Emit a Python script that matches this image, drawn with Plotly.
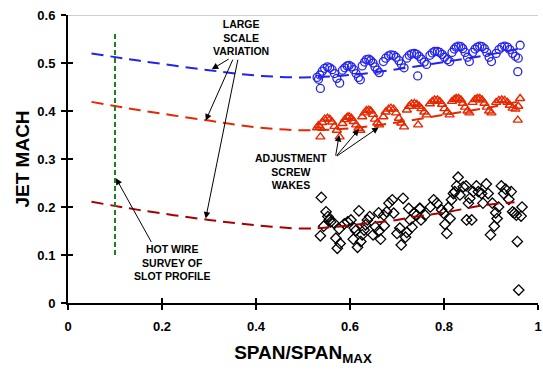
import plotly.graph_objects as go

# ---- fitted (dashed) curves ----
blue_fit_x = [0.05, 0.15, 0.3, 0.4, 0.5, 0.6, 0.7, 0.8, 0.9, 0.96]
blue_fit_y = [0.520, 0.505, 0.485, 0.474, 0.470, 0.475, 0.487, 0.502, 0.518, 0.530]
red_fit_x = [0.05, 0.15, 0.3, 0.4, 0.5, 0.6, 0.7, 0.8, 0.9, 0.96]
red_fit_y = [0.419, 0.402, 0.380, 0.366, 0.360, 0.364, 0.376, 0.392, 0.408, 0.420]
dred_fit_x = [0.05, 0.15, 0.3, 0.4, 0.5, 0.56, 0.63, 0.7, 0.74, 0.81, 0.88, 0.95]
dred_fit_y = [0.211, 0.194, 0.173, 0.162, 0.155, 0.158, 0.165, 0.173, 0.180, 0.190, 0.203, 0.210]
hotwire_x = [0.1, 0.1]
hotwire_y = [0.10, 0.563]

# ---- blue circles ----
blue_x = [0.530, 0.533, 0.537,
          0.536, 0.541, 0.546, 0.552, 0.557, 0.562, 0.567, 0.572, 0.578,
          0.584, 0.589, 0.594, 0.598, 0.603, 0.608, 0.613, 0.618, 0.622,
          0.626, 0.631, 0.635, 0.640, 0.644, 0.649, 0.653, 0.658, 0.662,
          0.671, 0.676, 0.682, 0.687, 0.693, 0.698, 0.704, 0.709, 0.715,
          0.721, 0.726, 0.731, 0.737, 0.742, 0.747, 0.752, 0.758, 0.763,
          0.770, 0.775, 0.780, 0.786, 0.791, 0.796, 0.801, 0.807, 0.812,
          0.817, 0.822, 0.826, 0.831, 0.836, 0.840, 0.845, 0.850, 0.854,
          0.861, 0.866, 0.871, 0.876, 0.881, 0.886, 0.891, 0.896, 0.901,
          0.911, 0.917, 0.923, 0.929, 0.935, 0.940, 0.946, 0.952, 0.958,
          0.744, 0.962, 0.957]
blue_y = [0.470, 0.466, 0.447,
          0.475, 0.483, 0.489, 0.492, 0.490, 0.486, 0.478, 0.468, 0.458,
          0.485, 0.490, 0.494, 0.495, 0.492, 0.486, 0.478, 0.470, 0.465,
          0.494, 0.502, 0.507, 0.508, 0.505, 0.500, 0.492, 0.485, 0.480,
          0.503, 0.510, 0.515, 0.517, 0.516, 0.512, 0.505, 0.498, 0.490,
          0.510, 0.516, 0.519, 0.520, 0.518, 0.514, 0.508, 0.502, 0.497,
          0.516, 0.521, 0.524, 0.524, 0.522, 0.518, 0.512, 0.507, 0.503,
          0.522, 0.529, 0.533, 0.535, 0.534, 0.530, 0.522, 0.512, 0.503,
          0.522, 0.529, 0.533, 0.535, 0.534, 0.530, 0.522, 0.512, 0.503,
          0.520, 0.528, 0.533, 0.535, 0.533, 0.528, 0.520, 0.514, 0.510,
          0.473, 0.537, 0.482]

# ---- red triangles ----
red_x = [0.530, 0.533, 0.537,
         0.536, 0.541, 0.546, 0.552, 0.557, 0.562, 0.567, 0.572, 0.578,
         0.584, 0.589, 0.594, 0.598, 0.603, 0.608, 0.613, 0.618, 0.622,
         0.626, 0.631, 0.635, 0.640, 0.644, 0.649, 0.653, 0.658, 0.662,
         0.671, 0.676, 0.682, 0.687, 0.693, 0.698, 0.704, 0.709, 0.715,
         0.721, 0.726, 0.731, 0.737, 0.742, 0.747, 0.752, 0.758, 0.763,
         0.770, 0.775, 0.780, 0.786, 0.791, 0.796, 0.801, 0.807, 0.812,
         0.817, 0.822, 0.826, 0.831, 0.836, 0.840, 0.845, 0.850, 0.854,
         0.861, 0.866, 0.871, 0.876, 0.881, 0.886, 0.891, 0.896, 0.901,
         0.911, 0.917, 0.923, 0.929, 0.935, 0.940, 0.946, 0.952, 0.958,
         0.745, 0.962, 0.957]
red_y = [0.365, 0.370, 0.346,
         0.367, 0.376, 0.383, 0.385, 0.383, 0.377, 0.368, 0.360, 0.346,
         0.374, 0.382, 0.387, 0.388, 0.385, 0.378, 0.371, 0.364, 0.360,
         0.388, 0.396, 0.401, 0.402, 0.400, 0.393, 0.383, 0.375, 0.371,
         0.388, 0.398, 0.404, 0.406, 0.404, 0.396, 0.385, 0.375, 0.367,
         0.402, 0.410, 0.415, 0.416, 0.414, 0.410, 0.405, 0.398, 0.392,
         0.415, 0.420, 0.423, 0.423, 0.420, 0.414, 0.405, 0.398, 0.392,
         0.420, 0.424, 0.426, 0.426, 0.423, 0.416, 0.408, 0.400, 0.396,
         0.418, 0.424, 0.426, 0.426, 0.423, 0.416, 0.408, 0.400, 0.396,
         0.418, 0.422, 0.423, 0.422, 0.418, 0.412, 0.406, 0.404, 0.410,
         0.371, 0.426, 0.381]

# ---- black diamonds ----
black_x = [0.539, 0.549, 0.553, 0.556, 0.559, 0.565, 0.544, 0.537, 0.570, 0.579,
           0.573, 0.577, 0.588, 0.595, 0.602, 0.609, 0.619, 0.612, 0.607, 0.623,
           0.616, 0.630, 0.633, 0.637, 0.642, 0.626, 0.649, 0.654, 0.661, 0.665,
           0.661, 0.673, 0.672, 0.678, 0.683, 0.690, 0.693, 0.700, 0.706, 0.713,
           0.721, 0.718, 0.732, 0.709, 0.725, 0.728, 0.736, 0.742, 0.749,
           0.748, 0.751, 0.760, 0.771, 0.778, 0.785, 0.795, 0.799, 0.802, 0.806,
           0.809, 0.813, 0.816, 0.820, 0.823, 0.827, 0.830, 0.834, 0.841, 0.847,
           0.848, 0.852, 0.855, 0.859, 0.862, 0.869, 0.873, 0.880, 0.883, 0.890,
           0.894, 0.899, 0.903, 0.907, 0.910, 0.913, 0.916, 0.922, 0.927, 0.931,
           0.938, 0.943, 0.946, 0.950, 0.954, 0.964, 0.966, 0.956, 0.959]
black_y = [0.220, 0.190, 0.180, 0.173, 0.169, 0.167, 0.160, 0.140, 0.135, 0.124,
           0.114, 0.154, 0.165, 0.169, 0.173, 0.156, 0.192, 0.151, 0.133, 0.128,
           0.116, 0.152, 0.163, 0.173, 0.180, 0.142, 0.142, 0.159, 0.149, 0.133,
           0.188, 0.161, 0.183, 0.190, 0.208, 0.215, 0.187, 0.145, 0.156, 0.218,
           0.147, 0.137, 0.158, 0.121, 0.197, 0.173, 0.187, 0.183, 0.197,
           0.197, 0.173, 0.183, 0.200, 0.215, 0.208, 0.194, 0.187, 0.164, 0.145,
           0.199, 0.176, 0.215, 0.228, 0.232, 0.244, 0.262, 0.225, 0.242, 0.244,
           0.173, 0.208, 0.218, 0.173, 0.232, 0.244, 0.232, 0.228, 0.208, 0.248,
           0.228, 0.142, 0.208, 0.160, 0.188, 0.176, 0.200, 0.244, 0.228, 0.237,
           0.216, 0.232, 0.190, 0.187, 0.183, 0.181, 0.200, 0.128, 0.027]

x_ticks = [0, 0.2, 0.4, 0.6, 0.8, 1.0]
x_tick_labels = ["0", "0.2", "0.4", "0.6", "0.8", "1"]
y_ticks = [0, 0.1, 0.2, 0.3, 0.4, 0.5, 0.6]
y_tick_labels = ["0", "0.1", "0.2", "0.3", "0.4", "0.5", "0.6"]

BLUE = "rgb(35,35,235)"
RED = "rgb(230,40,0)"
DRED = "rgb(165,0,0)"
GREEN = "rgb(30,130,30)"
FONT = "Liberation Sans, Arial, sans-serif"

fig = go.Figure()

fig.add_trace(go.Scatter(x=blue_x, y=blue_y, mode="markers",
                         marker=dict(symbol="circle-open", size=8, color=BLUE,
                                     line=dict(width=1.3, color=BLUE))))
fig.add_trace(go.Scatter(x=red_x, y=red_y, mode="markers",
                         marker=dict(symbol="triangle-up-open", size=8, color=RED,
                                     line=dict(width=1.4, color=RED))))
fig.add_trace(go.Scatter(x=black_x, y=black_y, mode="markers",
                         marker=dict(symbol="diamond-open", size=8, color="black",
                                     line=dict(width=1.3, color="black"))))

fig.add_trace(go.Scatter(x=blue_fit_x, y=blue_fit_y, mode="lines", line_shape="spline",
                         line=dict(color=BLUE, width=2, dash="12px,7px")))
fig.add_trace(go.Scatter(x=red_fit_x, y=red_fit_y, mode="lines", line_shape="spline",
                         line=dict(color=RED, width=2, dash="12px,7px")))
fig.add_trace(go.Scatter(x=dred_fit_x, y=dred_fit_y, mode="lines", line_shape="spline",
                         line=dict(color=DRED, width=2, dash="12px,7px")))
fig.add_trace(go.Scatter(x=hotwire_x, y=hotwire_y, mode="lines",
                         line=dict(color=GREEN, width=2, dash="5px,3px")))

# invisible trace on overlay axes (for inside tick marks)
fig.add_trace(go.Scatter(x=[0], y=[0], xaxis="x2", yaxis="y2", mode="markers",
                         marker=dict(opacity=0), hoverinfo="skip"))

ann_font = dict(family=FONT, size=10.5, color="black", weight="bold")

annotations = [
    dict(x=0.3685, y=0.553, text="LARGE<br>SCALE<br>VARIATION", showarrow=False,
         font=ann_font, align="center"),
    dict(x=0.221, y=0.085, text="HOT WIRE<br>SURVEY OF<br>SLOT PROFILE", showarrow=False,
         font=ann_font, align="center"),
    dict(x=0.475, y=0.275, text="ADJUSTMENT<br>SCREW<br>WAKES", showarrow=False,
         font=ann_font, align="center"),
]
arrows = [
    (0.306, 0.487, 0.345, 0.510),
    (0.293, 0.380, 0.352, 0.510),
    (0.293, 0.176, 0.362, 0.510),
    (0.102, 0.260, 0.179, 0.124),
    (0.577, 0.350, 0.569, 0.304),
    (0.619, 0.362, 0.569, 0.304),
    (0.661, 0.366, 0.569, 0.304),
]
for hx, hy, tx, ty in arrows:
    annotations.append(dict(x=hx, y=hy, ax=tx, ay=ty, xref="x", yref="y",
                            axref="x", ayref="y", text="", showarrow=True,
                            arrowhead=2, arrowsize=1.3, arrowwidth=1, arrowcolor="black"))

fig.update_layout(
    width=543, height=370,
    margin=dict(l=68, r=1, t=15, b=67),
    paper_bgcolor="white", plot_bgcolor="white",
    showlegend=False,
    font=dict(family=FONT, color="black"),
    annotations=annotations,
    shapes=[dict(type="line", xref="paper", yref="y", x0=0, x1=1, y0=0.6, y1=0.6,
                 line=dict(color="rgb(190,190,190)", width=1.5), layer="below")],
    xaxis=dict(range=[0, 1], tickvals=x_ticks, ticktext=x_tick_labels,
               showgrid=False, zeroline=False, showline=True, linecolor="black",
               linewidth=2, ticks="outside", ticklen=5, tickwidth=1.5, tickcolor="black",
               tickfont=dict(family=FONT, size=13, color="black", weight="bold"),
               ticklabelstandoff=5, ticklabeloverflow="allow",
               title=dict(text="SPAN/SPAN<sub>MAX</sub>", standoff=13,
                          font=dict(family=FONT, size=19, color="black", weight="bold"))),
    yaxis=dict(range=[0, 0.6], tickvals=y_ticks, ticktext=y_tick_labels,
               showgrid=False, zeroline=False, showline=True, linecolor="black",
               linewidth=2, ticks="outside", ticklen=5, tickwidth=1.5, tickcolor="black",
               tickfont=dict(family=FONT, size=13, color="black", weight="bold"),
               ticklabelstandoff=3,
               title=dict(text="JET MACH", standoff=3,
                          font=dict(family=FONT, size=19, color="black", weight="bold"))),
    xaxis2=dict(range=[0, 1], overlaying="x", anchor="y2", side="bottom",
                tickvals=x_ticks, showticklabels=False, showgrid=False, zeroline=False,
                showline=False, ticks="inside", ticklen=5, tickwidth=1.5, tickcolor="black"),
    yaxis2=dict(range=[0, 0.6], overlaying="y", anchor="x2", side="left",
                tickvals=y_ticks, showticklabels=False, showgrid=False, zeroline=False,
                showline=False, ticks="inside", ticklen=5, tickwidth=1.5, tickcolor="black"),
)

fig.write_html("out.html")
